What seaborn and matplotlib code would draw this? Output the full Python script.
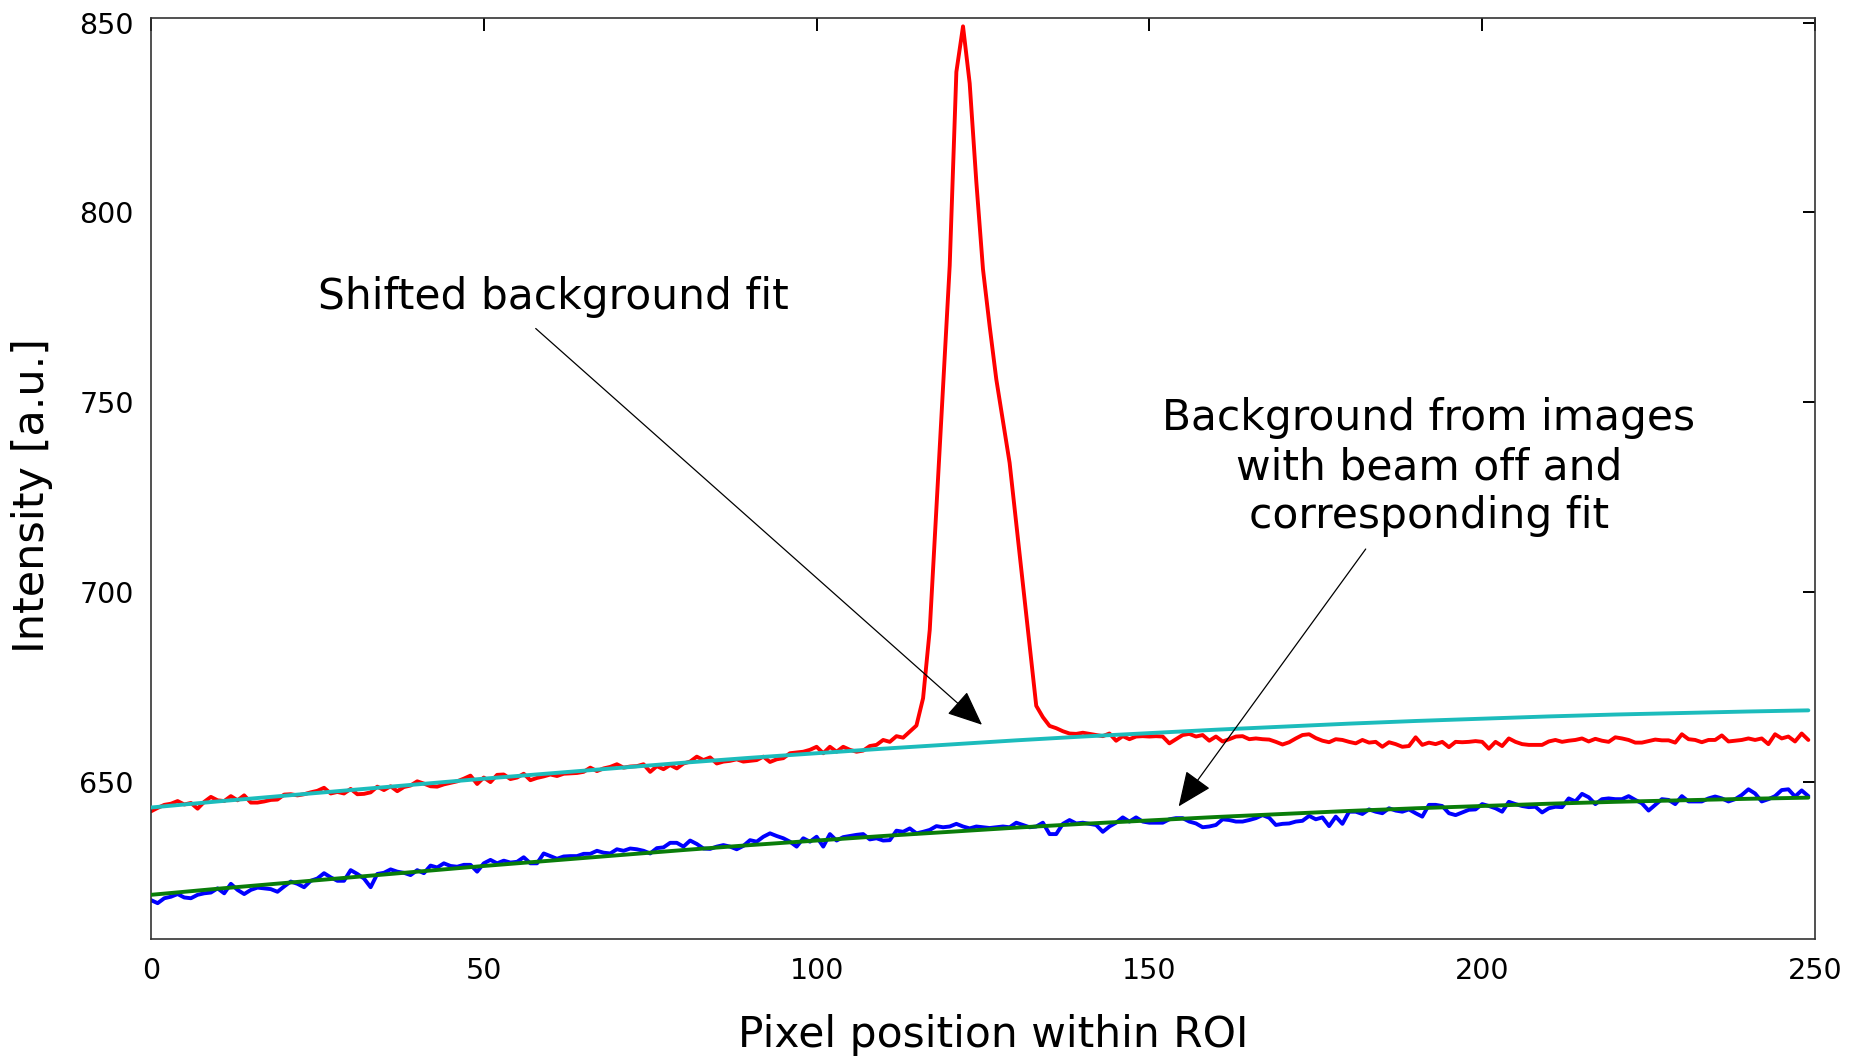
import matplotlib
matplotlib.use("Agg")
import matplotlib.pyplot as plt
import seaborn as sns
import pandas as pd

# ---------------- data ----------------
pixel = list(range(250))

signal_red = [
    642.2, 643.1, 643.9, 644.2, 644.9, 644.0, 644.4, 642.9, 644.7, 646.0,
    645.1, 644.9, 646.2, 645.1, 646.4, 644.5, 644.5, 644.8, 645.2, 645.3,
    646.6, 646.7, 646.4, 646.7, 647.2, 647.6, 648.4, 646.9, 647.3, 646.9,
    648.1, 646.7, 646.8, 647.2, 648.7, 647.8, 648.8, 647.5, 648.6, 649.0,
    650.1, 649.5, 648.8,
    648.7, 649.3, 649.7, 650.1, 650.8, 651.6, 649.4, 651.1, 649.9, 651.8,
    651.9, 650.7, 651.1, 652.1, 650.4, 651.0, 651.4, 651.9, 651.5, 652.1,
    652.2, 652.3, 652.6, 653.7, 652.8, 653.5, 653.9, 654.6, 653.7, 654.0,
    654.1, 654.6, 652.6, 654.1, 653.3, 654.4, 653.5, 654.8, 655.3, 656.6,
    655.7, 656.4,
    654.8, 655.3, 655.5, 655.9, 655.3, 655.5, 655.7, 656.6, 655.2, 655.9,
    656.2, 657.5, 657.7, 657.9, 658.4, 659.2, 657.5, 659.2, 657.9, 659.2,
    658.4, 657.9, 658.2, 659.4, 659.7, 661.0, 660.5, 662.0,
    661.6, 663.2, 664.8, 672.0, 690.0, 722.0, 754.0, 786.0, 837.0, 849.0,
    834.0, 808.0, 785.0, 770.0, 756.0, 745.0, 734.0, 718.0, 702.0, 686.0,
    670.0, 667.0, 664.7, 664.1, 663.3,
    662.7, 662.6, 662.9, 662.6, 662.3, 662.0, 662.7, 660.8, 662.0, 661.2,
    661.9, 662.0, 661.9, 662.0, 661.9, 660.1, 661.2, 662.3, 662.6, 661.9,
    662.3, 660.8, 661.9, 660.6, 661.2, 661.9, 662.0, 661.2, 661.4, 661.2,
    661.1,
    660.5, 659.8, 660.4, 661.4, 662.3, 662.5, 661.5, 660.8, 660.4, 661.2,
    661.0, 660.5, 660.1, 661.0, 660.3, 660.5, 659.2, 660.4, 659.9, 659.2,
    659.4, 661.7, 659.7, 660.3, 659.9, 660.5, 659.1, 660.5, 660.4, 660.5,
    660.7, 660.5, 658.7, 660.5, 659.4, 661.4, 660.5, 659.9, 659.7, 659.7,
    659.7,
    660.6, 661.0, 660.5, 660.8, 661.0, 661.4, 660.6, 661.3, 660.8, 660.5,
    661.7, 661.4, 661.0, 660.3, 660.3, 660.7, 661.1, 660.9, 660.9, 660.3,
    662.5, 661.2, 661.0, 660.4, 661.0, 661.0, 662.2, 660.6, 660.8, 661.0,
    661.4, 661.0, 661.4, 659.9, 662.5, 661.4, 661.9, 660.6, 662.7, 661.0,
]

background_blue = [
    618.8, 618.0, 619.3, 619.7, 620.4, 619.5, 619.3, 620.2, 620.6, 620.8,
    621.9, 620.6, 623.1, 621.5, 620.4, 621.5, 622.1, 621.9, 621.7, 621.0,
    622.4, 623.7, 623.1, 622.2, 623.9, 624.5, 625.9, 624.8, 623.9, 623.9,
    626.7, 625.7, 624.5, 622.2, 625.7, 626.0, 626.9, 626.3, 626.0, 625.4,
    626.7, 625.9, 627.9,
    627.4, 628.5, 627.8, 627.6, 628.1, 628.1, 626.3, 628.5, 629.4, 628.5,
    629.2, 628.7, 628.9, 630.1, 628.5, 628.5, 631.1, 630.4, 629.7, 630.3,
    630.4, 630.4, 631.0, 631.0, 631.8, 631.3, 631.1, 632.2, 631.8, 632.4,
    632.2, 631.8, 631.1, 632.5, 632.7, 633.9, 633.9, 632.9, 634.5, 633.6,
    632.4,
    632.3, 632.9, 633.3, 632.9, 632.2, 633.1, 634.6, 634.2, 635.5, 636.4,
    635.7, 635.1, 634.2, 632.9, 635.1, 634.2, 635.5, 632.9, 636.2, 634.5,
    635.4, 635.7, 636.0, 636.2, 634.8, 635.1, 634.5, 634.6, 637.1, 636.8,
    637.7, 636.4, 636.8, 637.3, 638.3, 638.0, 638.2, 638.9, 638.2, 637.7,
    638.2, 638.0,
    637.8, 638.0, 638.2, 638.0, 639.2, 638.6, 638.0, 638.2, 639.2, 636.2,
    636.2, 638.9, 639.9, 639.0, 639.2, 638.9, 638.6, 636.8, 638.2, 639.2,
    640.6, 639.5, 640.6, 639.5, 639.2, 639.2, 639.2, 640.1, 640.4, 640.4,
    639.5, 639.0, 638.0, 638.2, 638.6, 640.1, 639.9, 639.5, 639.5, 639.9,
    640.4, 641.2,
    640.5, 638.6, 638.9, 639.0, 639.5, 639.7, 641.0, 640.1, 640.6, 638.3,
    640.8, 638.9, 642.1, 642.1, 641.5, 642.7, 642.1, 641.7, 643.0, 642.4,
    642.1, 642.7, 641.7, 640.8, 643.9, 643.9, 643.6, 641.7, 641.2, 641.9,
    642.6, 642.7, 644.1, 643.6, 643.0, 642.1, 644.7, 644.1, 643.6, 643.3,
    643.4, 641.9,
    643.0, 643.4, 643.3, 645.6, 644.8, 646.8, 645.9, 644.1, 645.4, 645.6,
    645.4, 645.4, 646.2, 645.2, 644.3, 642.4, 643.9, 645.4, 645.2, 644.1,
    646.2, 644.8, 644.8, 644.8, 645.6, 646.1, 645.6, 644.8, 645.4, 646.5,
    648.0, 646.9, 644.8, 645.4, 646.2, 647.8, 648.0, 646.1, 647.7, 646.2,
]

fit_x = [0, 10, 20, 30, 40, 50, 60, 70, 80, 90, 100, 110, 120, 130, 140,
         150, 160, 170, 180, 190, 200, 210, 220, 230, 240, 249]
shifted_fit = [643.2, 644.8, 646.3, 647.8, 649.3, 650.8, 652.2, 653.6, 655.0,
               656.3, 657.5, 658.7, 659.8, 660.9, 661.9, 662.8, 663.7, 664.5,
               665.3, 666.0, 666.6, 667.2, 667.7, 668.1, 668.5, 668.8]
background_fit = [620.2, 621.8, 623.3, 624.8, 626.3, 627.8, 629.2, 630.6,
                  632.0, 633.3, 634.5, 635.7, 636.8, 637.9, 638.9, 639.8,
                  640.7, 641.5, 642.3, 643.0, 643.6, 644.2, 644.7, 645.1,
                  645.5, 645.8]

x_ticks = [0, 50, 100, 150, 200, 250]
y_ticks = [650, 700, 750, 800, 850]

label1 = "Shifted background fit"
label2 = "Background from images\nwith beam off and\ncorresponding fit"

# ---------------- plot ----------------
sns.set_style("white")
plt.rcParams["font.family"] = ["DejaVu Sans"]
plt.rcParams["text.color"] = "black"
plt.rcParams["axes.labelcolor"] = "black"
plt.rcParams["xtick.color"] = "black"
plt.rcParams["ytick.color"] = "black"

fig = plt.figure(figsize=(18.6, 10.59), dpi=100)
fig.patch.set_facecolor("white")
ax = fig.add_axes([0.08118, 0.11331, 0.89462, 0.86969])

df_raw = pd.DataFrame({"x": pixel, "red": signal_red, "blue": background_blue})
df_fit = pd.DataFrame({"x": fit_x, "shifted": shifted_fit, "bg": background_fit})

lw = 2.8
sns.lineplot(data=df_raw, x="x", y="red", color="#ff0000", lw=lw, ax=ax, zorder=2)
sns.lineplot(data=df_raw, x="x", y="blue", color="#0000ff", lw=lw, ax=ax, zorder=2)
sns.lineplot(data=df_fit, x="x", y="shifted", color="#1cbcbc", lw=lw, ax=ax, zorder=3)
sns.lineplot(data=df_fit, x="x", y="bg", color="#0a7d0a", lw=lw, ax=ax, zorder=3)

ax.set_xlim(0, 250)
ax.set_ylim(608.56, 851.2)
ax.set_xticks(x_ticks)
ax.set_yticks(y_ticks)
ax.tick_params(axis="both", direction="in", top=True, right=True,
               length=9, width=1.4, color="black", labelcolor="black",
               labelsize=20.5)
ax.tick_params(axis="x", pad=13)
ax.tick_params(axis="y", pad=12.5)

for s in ax.spines.values():
    s.set_visible(True)
    s.set_color("#333333")
    s.set_linewidth(1.2)

ax.set_xlabel("Pixel position within ROI", fontsize=30.5, color="black")
ax.set_ylabel("Intensity [a.u.]", fontsize=31, color="black")
ax.xaxis.set_label_coords(0.5059, -0.081)
ax.yaxis.set_label_coords(-0.0589, 0.4812)

ax.text(60.5, 777.8, label1, fontsize=30.5, ha="center", va="center",
        color="black")
ax.text(192.0, 732.9, label2, fontsize=30.5, ha="center", va="center",
        multialignment="center", linespacing=1.2, color="black")

arrow_kw = dict(arrowstyle="-|>,head_length=2.2,head_width=0.95",
                mutation_scale=10, color="black", lw=0.9,
                shrinkA=0, shrinkB=0)
ax.annotate("", xy=(124.85, 665.0), xytext=(57.8, 769.4), arrowprops=arrow_kw)
ax.annotate("", xy=(154.4, 643.5), xytext=(182.5, 711.3), arrowprops=arrow_kw)

fig.savefig("out.png", dpi=100, facecolor="white")
